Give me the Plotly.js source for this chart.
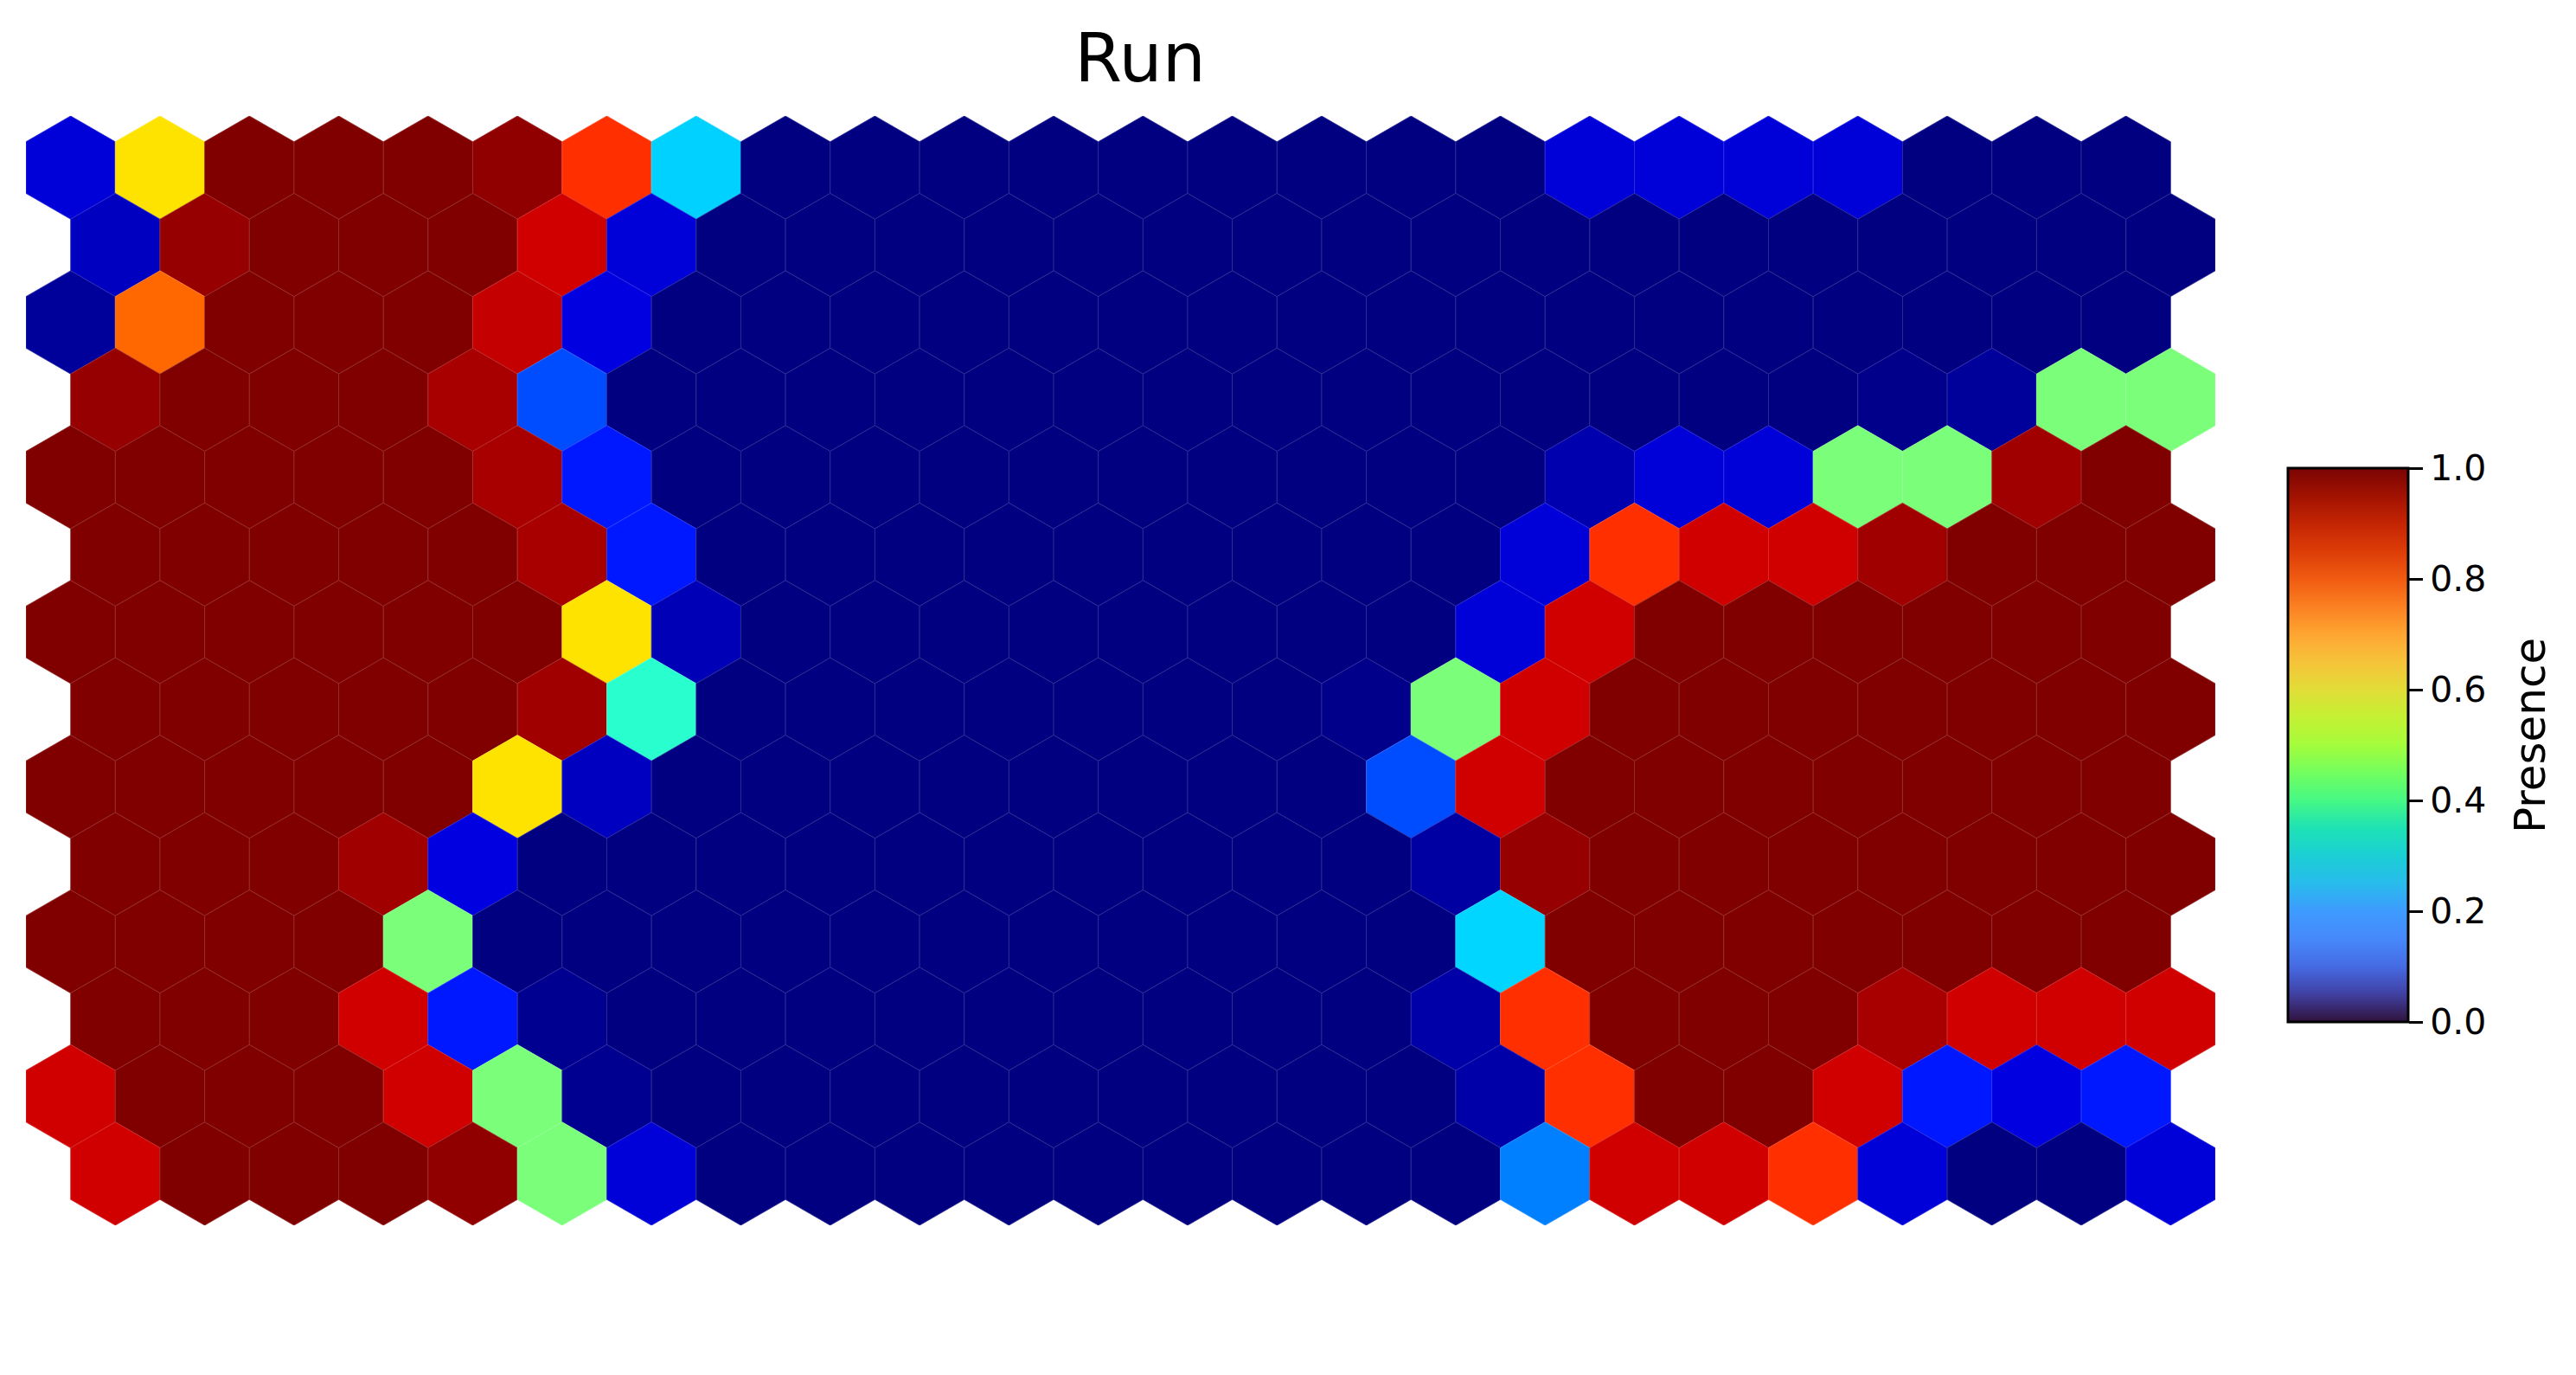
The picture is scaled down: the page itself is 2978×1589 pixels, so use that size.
<!DOCTYPE html>
<html>
<head>
<meta charset="utf-8">
<script src="https://cdn.plot.ly/plotly-3.0.1.min.js"></script>
<style>html, body { margin: 0; padding: 0; background: #fff; }</style>
</head>
<body>
<div id="chart" style="width:2978px;height:1589px"></div>
<script>
// presence per SOM node, one array per hex row (top row first), 24 nodes each
const row0  = [0.076, 0.67, 1, 1, 1, 0.986, 0.86, 0.33, 0, 0, 0, 0, 0, 0, 0, 0, 0, 0.076, 0.076, 0.076, 0.076, 0, 0, 0];
const row1  = [0.056, 0.98, 1, 1, 1, 0.93, 0.076, 0, 0, 0, 0, 0, 0, 0, 0, 0, 0, 0, 0, 0, 0, 0, 0, 0];
const row2  = [0.023, 0.80, 1, 1, 1, 0.94, 0.083, 0, 0, 0, 0, 0, 0, 0, 0, 0, 0, 0, 0, 0, 0, 0, 0, 0];
const row3  = [0.98, 1, 1, 1, 0.965, 0.2, 0, 0, 0, 0, 0, 0, 0, 0, 0, 0, 0, 0, 0, 0, 0.01, 0.023, 0.5, 0.5];
const row4  = [1, 1, 1, 1, 1, 0.965, 0.149, 0, 0, 0, 0, 0, 0, 0, 0, 0, 0, 0.04, 0.076, 0.076, 0.5, 0.5, 0.972, 1];
const row5  = [1, 1, 1, 1, 1, 0.965, 0.149, 0, 0, 0, 0, 0, 0, 0, 0, 0, 0.076, 0.86, 0.93, 0.93, 0.972, 1, 1, 1];
const row6  = [1, 1, 1, 1, 1, 1, 0.67, 0.048, 0, 0, 0, 0, 0, 0, 0, 0, 0.076, 0.93, 1, 1, 1, 1, 1, 1];
const row7  = [1, 1, 1, 1, 1, 0.972, 0.40, 0, 0, 0, 0, 0, 0, 0, 0.01, 0.5, 0.93, 1, 1, 1, 1, 1, 1, 1];
const row8  = [1, 1, 1, 1, 1, 0.67, 0.056, 0, 0, 0, 0, 0, 0, 0, 0, 0.2, 0.93, 1, 1, 1, 1, 1, 1, 1];
const row9  = [1, 1, 1, 0.972, 0.083, 0, 0, 0, 0, 0, 0, 0, 0, 0, 0, 0.03, 0.98, 1, 1, 1, 1, 1, 1, 1];
const row10 = [1, 1, 1, 1, 0.5, 0, 0, 0, 0, 0, 0, 0, 0, 0, 0, 0, 0.335, 1, 1, 1, 1, 1, 1, 1];
const row11 = [1, 1, 1, 0.93, 0.149, 0.014, 0, 0, 0, 0, 0, 0, 0, 0, 0, 0.035, 0.86, 1, 1, 1, 0.965, 0.93, 0.93, 0.93];
const row12 = [0.93, 1, 1, 1, 0.93, 0.5, 0.014, 0, 0, 0, 0, 0, 0, 0, 0, 0, 0.035, 0.86, 1, 1, 0.93, 0.149, 0.083, 0.149];
const row13 = [0.93, 1, 1, 1, 0.986, 0.5, 0.076, 0, 0, 0, 0, 0, 0, 0, 0, 0, 0.25, 0.93, 0.93, 0.86, 0.076, 0, 0, 0.076];

const presence = [row0, row1, row2, row3, row4, row5, row6, row7, row8, row9, row10, row11, row12, row13];

const cbar_ticks = [0, 0.2, 0.4, 0.6, 0.8, 1.0];
const cbar_labels = ['0.0', '0.2', '0.4', '0.6', '0.8', '1.0'];

// matplotlib jet, piecewise linear
const jet_seg = {
    r: [[0, 0], [0.35, 0], [0.66, 1], [0.89, 1], [1, 0.5]],
    g: [[0, 0], [0.125, 0], [0.375, 1], [0.64, 1], [0.91, 0], [1, 0]],
    b: [[0, 0.5], [0.11, 1], [0.34, 1], [0.65, 0], [1, 0]]
};

function seg_value(seg, t) {
    for(let i = 1; i < seg.length; i++) {
        if(t <= seg[i][0]) {
            const [x0, y0] = seg[i - 1];
            const [x1, y1] = seg[i];
            return y0 + (y1 - y0) * (t - x0) / (x1 - x0);
        }
    }
    return seg[seg.length - 1][1];
}

function jet(t, lighten) {
    t = Math.max(0, Math.min(1, t));
    const c = ['r', 'g', 'b'].map(k => {
        const v = seg_value(jet_seg[k], t);
        return Math.round(255 * (v + (1 - v) * (lighten || 0)));
    });
    return `rgb(${c[0]},${c[1]},${c[2]})`;
}

// turbo stops for the colorbar
const turbo_scale = [
    [0.00, '#30123b'], [0.05, '#4040a2'], [0.10, '#466be3'], [0.15, '#4688fb'],
    [0.20, '#3e9bfe'], [0.25, '#28bbec'], [0.30, '#1bcfd4'], [0.35, '#1ee2b5'],
    [0.40, '#46f884'], [0.45, '#72fe5e'], [0.50, '#a4fc3c'], [0.55, '#c4f133'],
    [0.60, '#e1dd37'], [0.65, '#f6c33a'], [0.70, '#fea632'], [0.75, '#fb8022'],
    [0.80, '#f05b12'], [0.85, '#dd3d08'], [0.90, '#c42503'], [0.95, '#a11201'],
    [1.00, '#7a0403']
];

const SQ3 = Math.sqrt(3);
const R = 1 / SQ3;
const n_rows = presence.length;

// plot area in pixels
const W = 2978, H = 1589;
const M = {l: 30, r: 417, t: 134, b: 173};
const plot_w = W - M.l - M.r;
const plot_h = H - M.t - M.b;

let chart_data = [];

presence.forEach((row, r) => {
    row.forEach((v, c) => {
        const cx = c + (r % 2 ? 0.5 : 0);
        const cy = -r * SQ3 / 2;
        let xs = [], ys = [];
        for(let k = 0; k <= 6; k++) {
            const a = (30 + 60 * k) * Math.PI / 180;
            xs.push(cx + R * Math.cos(a));
            ys.push(cy + R * Math.sin(a));
        }
        chart_data.push({
            x: xs,
            y: ys,
            type: 'scatter',
            mode: 'lines',
            fill: 'toself',
            fillcolor: jet(v),
            line: {color: jet(v, 0.18), width: 0.8},
            hoverinfo: 'skip',
            showlegend: false
        });
    });
});

// invisible markers only to carry the colorbar
chart_data.push({
    x: [0, 0],
    y: [0, 0],
    type: 'scatter',
    mode: 'markers',
    hoverinfo: 'skip',
    showlegend: false,
    marker: {
        color: [0, 1],
        cmin: 0,
        cmax: 1,
        size: 1,
        opacity: 0,
        colorscale: turbo_scale,
        showscale: true,
        colorbar: {
            x: (2645 - M.l) / plot_w,
            xanchor: 'left',
            y: (H - M.b - 861) / plot_h,
            yanchor: 'middle',
            len: 640,
            lenmode: 'pixels',
            thickness: 139,
            thicknessmode: 'pixels',
            xpad: 0,
            ypad: 0,
            outlinewidth: 3,
            outlinecolor: '#000',
            ticks: 'outside',
            ticklen: 16,
            tickwidth: 3,
            tickcolor: '#000',
            tickvals: cbar_ticks,
            ticktext: cbar_labels,
            tickfont: {family: 'DejaVu Sans', size: 41, color: '#000'}
        }
    }
});

const y_top = R;
const y_bottom = -(n_rows - 1) * SQ3 / 2 - R;

const chart_layout = {
    width: W,
    height: H,
    paper_bgcolor: '#fff',
    plot_bgcolor: '#fff',
    margin: {l: M.l, r: M.r, t: M.t, b: M.b, pad: 0},
    title: {
        text: 'Run',
        xref: 'container',
        yref: 'container',
        x: 1318 / W,
        xanchor: 'center',
        y: 1 - 66 / H,
        yanchor: 'middle',
        font: {family: 'DejaVu Sans', size: 79, color: '#000'}
    },
    xaxis: {
        visible: false,
        range: [-0.5, 24],
        fixedrange: true
    },
    yaxis: {
        visible: false,
        range: [y_bottom, y_top],
        fixedrange: true
    },
    annotations: [
        {
            // colorbar label
            text: 'Presence',
            xref: 'paper',
            yref: 'paper',
            x: (2925 - M.l) / plot_w,
            y: (H - M.b - 850) / plot_h,
            xanchor: 'center',
            yanchor: 'middle',
            textangle: -90,
            showarrow: false,
            font: {family: 'DejaVu Sans', size: 50, color: '#000'}
        }
    ],
    showlegend: false
};

Plotly.newPlot('chart', chart_data, chart_layout, {displayModeBar: false, staticPlot: true});
</script>
</body>
</html>
